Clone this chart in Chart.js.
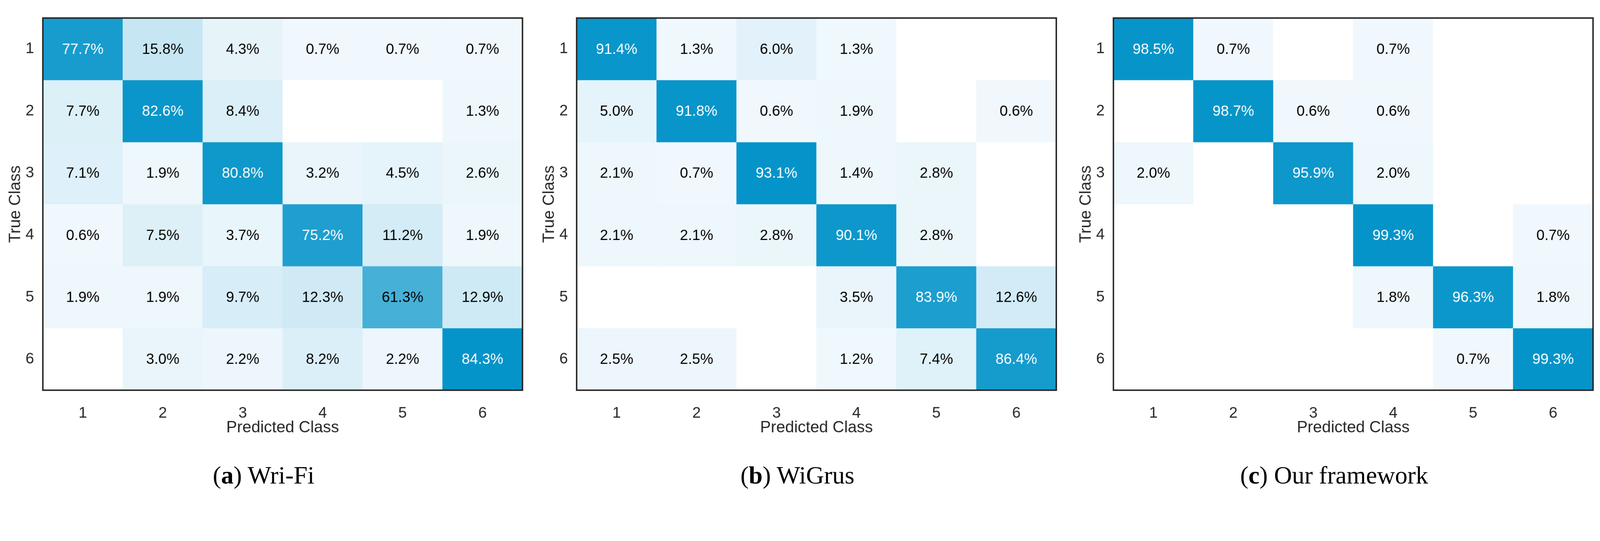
<!DOCTYPE html>
<html>

<head>
    <title>Confusion matrices</title>
    <script src="https://cdn.jsdelivr.net/npm/chart.js"></script>
    <style>
        html, body {
            margin: 0;
            overflow: hidden;
            background-color: #FFFFFF;
        }
        #page {
            position: absolute;
            left: 0;
            top: 0;
            width: 4370px;
            height: 1384px;
            transform-origin: 0 0;
        }
        .panel {
            position: absolute;
            top: 0;
            width: 1440px;
            height: 1200px;
        }
        .caption {
            position: absolute;
            top: 1258px;
            width: 1440px;
            text-align: center;
            font-family: "Liberation Serif", serif;
            font-size: 68px;
            color: #000;
        }
    </style>
</head>

<body>
    <div id="page">
        <div class="panel" style="left: 0px;"><canvas id="cmA"></canvas></div>
        <div class="panel" style="left: 1458px;"><canvas id="cmB"></canvas></div>
        <div class="panel" style="left: 2924px;"><canvas id="cmC"></canvas></div>
        <div class="caption" style="left: 0px;">(<b>a</b>) Wri-Fi</div>
        <div class="caption" style="left: 1458px;">(<b>b</b>) WiGrus</div>
        <div class="caption" style="left: 2924px;">(<b>c</b>) Our framework</div>
    </div>
</body>
<script>
    // class labels, used on both axes
    const classes = ["1", "2", "3", "4", "5", "6"];

    // row = true class, column = predicted class, in percent (0 = empty cell)
    const wriFi = [
        [77.7, 15.8, 4.3, 0.7, 0.7, 0.7],
        [7.7, 82.6, 8.4, 0, 0, 1.3],
        [7.1, 1.9, 80.8, 3.2, 4.5, 2.6],
        [0.6, 7.5, 3.7, 75.2, 11.2, 1.9],
        [1.9, 1.9, 9.7, 12.3, 61.3, 12.9],
        [0, 3.0, 2.2, 8.2, 2.2, 84.3]
    ];
    const wiGrus = [
        [91.4, 1.3, 6.0, 1.3, 0, 0],
        [5.0, 91.8, 0.6, 1.9, 0, 0.6],
        [2.1, 0.7, 93.1, 1.4, 2.8, 0],
        [2.1, 2.1, 2.8, 90.1, 2.8, 0],
        [0, 0, 0, 3.5, 83.9, 12.6],
        [2.5, 2.5, 0, 1.2, 7.4, 86.4]
    ];
    const ourFramework = [
        [98.5, 0.7, 0, 0.7, 0, 0],
        [0, 98.7, 0.6, 0.6, 0, 0],
        [2.0, 0, 95.9, 2.0, 0, 0],
        [0, 0, 0, 99.3, 0, 0.7],
        [0, 0, 0, 1.8, 96.3, 1.8],
        [0, 0, 0, 0, 0.7, 99.3]
    ];

    // the window may be smaller than 4370x1384 in css pixels, so fit the page to it
    var fit = Math.min(window.innerWidth / 4370, window.innerHeight / 1384);
    document.getElementById("page").style.transform = "scale(" + fit + ")";

    const light = [242, 249, 253];
    const dark = [5, 148, 201];

    function cellColor(v, max) {
        if (v === 0) return "#FFFFFF";
        var t = v / max;
        var c = light.map((l, k) => Math.round(l + (dark[k] - l) * t));
        return "rgb(" + c.join(",") + ")";
    }

    // writes the percentage in the middle of every non-empty cell, and the frame
    const cellText = {
        id: "cellText",
        afterDatasetsDraw(chart) {
            var ctx = chart.ctx;
            var max = chart.options.plugins.cellText.max;
            ctx.save();
            ctx.font = "40px 'Liberation Sans', Arial, sans-serif";
            ctx.textAlign = "center";
            ctx.textBaseline = "middle";
            chart.data.datasets.forEach((ds, i) => {
                var meta = chart.getDatasetMeta(i);
                meta.data.forEach((el, j) => {
                    var v = ds.values[j];
                    if (v === 0) return;
                    var p = el.getCenterPoint();
                    ctx.fillStyle = v / max > 0.8 ? "#FFFFFF" : "#000000";
                    ctx.fillText(v.toFixed(1) + "%", p.x, p.y + 2);
                });
            });
            ctx.restore();
        },
        afterDraw(chart) {
            var a = chart.chartArea;
            var ctx = chart.ctx;
            ctx.save();
            ctx.strokeStyle = "#262626";
            ctx.lineWidth = 4;
            ctx.strokeRect(a.left, a.top, a.right - a.left, a.bottom - a.top);
            ctx.restore();
        }
    };

    function createMatrix(canvasId, matrix) {
        var max = Math.max(...matrix.flat());
        var datasets = matrix.map((row, r) => ({
            data: row.map(() => [r + 0.5, r + 1.5]),
            values: row,
            backgroundColor: row.map(v => cellColor(v, max)),
            borderWidth: 0,
            barPercentage: 1,
            categoryPercentage: 1,
            grouped: false
        }));

        var axisFont = { family: "'Liberation Sans', Arial, sans-serif", size: 42 };

        new Chart(document.getElementById(canvasId), {
            type: "bar",
            data: { labels: classes, datasets: datasets },
            options: {
                responsive: true,
                maintainAspectRatio: false,
                animation: false,
                layout: { padding: { top: 22, right: 13, left: 0, bottom: 0 } },
                plugins: {
                    legend: { display: false },
                    tooltip: { enabled: false },
                    cellText: { max: max }
                },
                scales: {
                    x: {
                        grid: { display: false, drawTicks: false },
                        border: { display: false },
                        ticks: { color: "#262626", font: axisFont, padding: 38 },
                        title: {
                            display: true,
                            text: "Predicted Class",
                            color: "#262626",
                            font: { family: axisFont.family, size: 44 },
                            padding: { top: 0, bottom: 6 }
                        },
                        afterFit: s => { s.height = 135; }
                    },
                    y: {
                        type: "linear",
                        min: 0.5,
                        max: 6.5,
                        reverse: true,
                        grid: { display: false, drawTicks: false },
                        border: { display: false },
                        afterBuildTicks: s => { s.ticks = classes.map((c, i) => ({ value: i + 1 })); },
                        ticks: {
                            color: "#262626",
                            font: axisFont,
                            padding: 24,
                            callback: v => classes[v - 1]
                        },
                        title: {
                            display: true,
                            text: "True Class",
                            color: "#262626",
                            font: { family: axisFont.family, size: 44 },
                            padding: { top: 16, bottom: 0 }
                        },
                        afterFit: s => { s.width = 117; }
                    }
                }
            },
            plugins: [cellText]
        });
    }

    createMatrix("cmA", wriFi);
    createMatrix("cmB", wiGrus);
    createMatrix("cmC", ourFramework);
</script>

</html>
